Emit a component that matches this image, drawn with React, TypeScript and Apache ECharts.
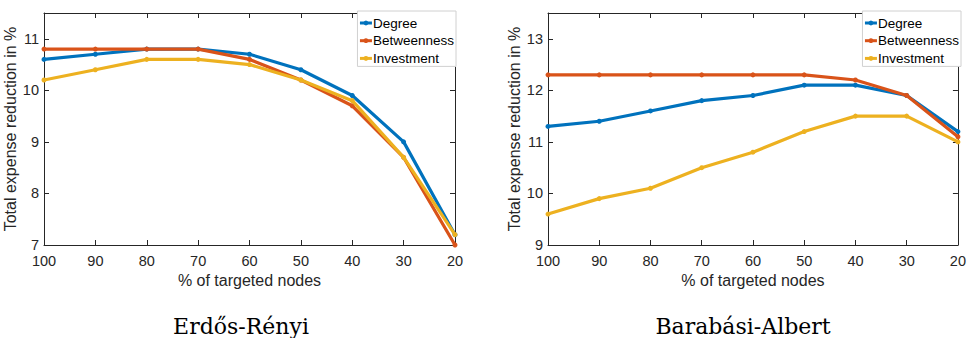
import React, { useEffect, useRef } from "react";
import * as echarts from "echarts";

const xValues = [100, 90, 80, 70, 60, 50, 40, 30, 20];
const seriesNames = ["Degree", "Betweenness", "Investment"];
const colors = ["#0072BD", "#D95319", "#EDB120"];

const erDegree = [10.6, 10.7, 10.8, 10.8, 10.7, 10.4, 9.9, 9.0, 7.2];
const erBetweenness = [10.8, 10.8, 10.8, 10.8, 10.6, 10.2, 9.7, 8.7, 7.0];
const erInvestment = [10.2, 10.4, 10.6, 10.6, 10.5, 10.2, 9.8, 8.7, 7.2];

const baDegree = [11.3, 11.4, 11.6, 11.8, 11.9, 12.1, 12.1, 11.9, 11.2];
const baBetweenness = [12.3, 12.3, 12.3, 12.3, 12.3, 12.3, 12.2, 11.9, 11.1];
const baInvestment = [9.6, 9.9, 10.1, 10.5, 10.8, 11.2, 11.5, 11.5, 11.0];

const titles = ["Erdős-Rényi", "Barabási-Albert"];
const xName = "% of targeted nodes";
const yName = "Total expense reduction in %";

const SANS = "Liberation Sans";
const TXT = "#262626";

export default function App() {
  const ref = useRef<HTMLDivElement>(null);
  useEffect(() => {
    if (!ref.current) return;
    const chart = echarts.init(ref.current, undefined, { renderer: "svg" });

    const grids = [
      { left: 44, right: 514, top: 13, bottom: 93 },
      { left: 548, right: 9, top: 13, bottom: 93 },
    ];
    const yRanges = [
      [7, 11.5],
      [9, 13.5],
    ];
    const data = [
      [erDegree, erBetweenness, erInvestment],
      [baDegree, baBetweenness, baInvestment],
    ];

    const xAxes: any[] = [];
    const yAxes: any[] = [];
    const series: any[] = [];
    grids.forEach((g, gi) => {
      xAxes.push({
        type: "value",
        gridIndex: gi,
        inverse: true,
        min: 20,
        max: 100,
        interval: 10,
        position: "bottom",
        name: xName,
        nameLocation: "middle",
        nameGap: 27,
        nameTextStyle: { fontFamily: SANS, fontSize: 16, color: TXT },
        axisLine: { show: true, onZero: false, lineStyle: { color: TXT, width: 1 } },
        axisTick: { show: true, inside: true, length: 5, lineStyle: { color: TXT } },
        axisLabel: { fontFamily: SANS, fontSize: 14.5, color: TXT, margin: 8 },
        splitLine: { show: false },
      });
      xAxes.push({
        type: "value",
        gridIndex: gi,
        inverse: true,
        min: 20,
        max: 100,
        interval: 10,
        position: "top",
        axisLine: { show: true, onZero: false, lineStyle: { color: TXT, width: 1 } },
        axisTick: { show: true, inside: true, length: 5, lineStyle: { color: TXT } },
        axisLabel: { show: false },
        splitLine: { show: false },
      });
      const [ymin, ymax] = yRanges[gi];
      yAxes.push({
        type: "value",
        gridIndex: gi,
        min: ymin,
        max: ymax,
        interval: 1,
        position: "left",
        name: yName,
        nameLocation: "middle",
        nameGap: 22,
        nameTextStyle: { fontFamily: SANS, fontSize: 16, color: TXT },
        axisLine: { show: true, onZero: false, lineStyle: { color: TXT, width: 1 } },
        axisTick: { show: true, inside: true, length: 5, lineStyle: { color: TXT } },
        axisLabel: {
          fontFamily: SANS,
          fontSize: 14.5,
          color: TXT,
          margin: 5,
          formatter: (v: number) => (Number.isInteger(v) ? String(v) : ""),
        },
        splitLine: { show: false },
      });
      yAxes.push({
        type: "value",
        gridIndex: gi,
        min: ymin,
        max: ymax,
        interval: 1,
        position: "right",
        axisLine: { show: true, onZero: false, lineStyle: { color: TXT, width: 1 } },
        axisTick: { show: true, inside: true, length: 5, lineStyle: { color: TXT } },
        axisLabel: { show: false },
        splitLine: { show: false },
      });
      seriesNames.forEach((name, si) => {
        series.push({
          type: "line",
          name,
          xAxisIndex: gi * 2,
          yAxisIndex: gi * 2,
          data: xValues.map((x, i) => [x, data[gi][si][i]]),
          color: colors[si],
          lineStyle: { width: 3.2, color: colors[si] },
          itemStyle: { color: colors[si] },
          symbol: "circle",
          symbolSize: 5,
          showSymbol: true,
          z: 2 + si,
        });
      });
    });

    const legendBase = {
      orient: "vertical",
      top: 11,
      itemGap: 3.7,
      itemWidth: 12,
      itemHeight: 6,
      padding: [5, 2, 1, 1],
      borderColor: "#d0d0d0",
      borderWidth: 1,
      backgroundColor: "#ffffff",
      lineStyle: { width: 3 },
      textStyle: {
        fontFamily: SANS,
        fontSize: 13.5,
        lineHeight: 13,
        color: "#000",
        padding: [0, 0, 0, -4],
      },
      data: seriesNames,
      selectedMode: false,
    };

    chart.setOption({
      animation: false,
      grid: grids.map((g) => ({ ...g, show: false })),
      xAxis: xAxes,
      yAxis: yAxes,
      series,
      legend: [
        { ...legendBase, right: 513 },
        { ...legendBase, right: 8 },
      ],
      graphic: [
        {
          type: "text",
          x: 241,
          y: 326,
          style: {
            text: titles[0],
            font: '22px "DejaVu Serif"',
            fill: "#000",
            textAlign: "center",
            textVerticalAlign: "middle",
          },
        },
        {
          type: "text",
          x: 743,
          y: 326,
          style: {
            text: titles[1],
            font: '22px "DejaVu Serif"',
            fill: "#000",
            textAlign: "center",
            textVerticalAlign: "middle",
          },
        },
      ],
    });
    return () => chart.dispose();
  }, []);
  return (
    <div
      ref={ref}
      style={{ position: "fixed", left: 0, top: 0, width: 969, height: 338, background: "#fff" }}
    />
  );
}
